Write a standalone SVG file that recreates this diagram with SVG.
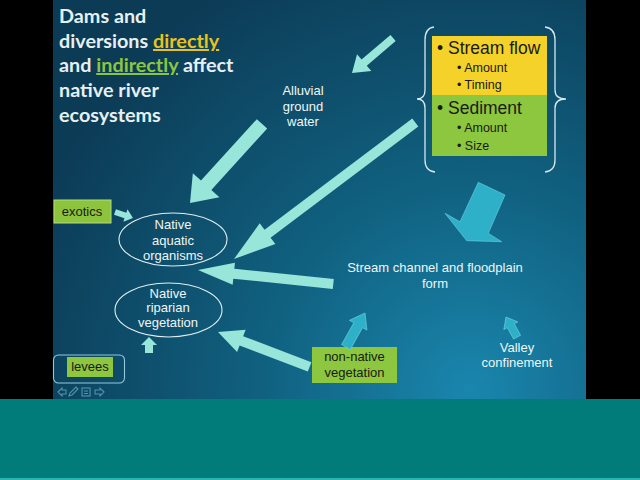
<svg xmlns="http://www.w3.org/2000/svg" width="640" height="480" viewBox="0 0 640 480">
<defs>
<radialGradient id="bg" cx="470" cy="390" r="470" gradientUnits="userSpaceOnUse">
<stop offset="0" stop-color="#1a86ad"/>
<stop offset="0.45" stop-color="#10607f"/>
<stop offset="1" stop-color="#0c3b56"/>
</radialGradient>
<style>
.t{font-family:"Liberation Sans",Arial,sans-serif;fill:#eef6f6;font-size:13px;text-anchor:middle}
.k{font-family:"Liberation Sans",Arial,sans-serif;fill:#1a1a10}
.km{font-family:"Liberation Sans",Arial,sans-serif;fill:#1a1a10;text-anchor:middle;font-size:13px}
.ti{font-family:Lato,"Open Sans",sans-serif;font-weight:bold;font-size:19.8px;fill:#e6f0f2}
.ar{fill:#98e6da}
.tl{fill:#2fb0c9;stroke:#6fd0e0;stroke-width:0.6}
.el{fill:none;stroke:#dfeff2;stroke-width:1.1}
.br{fill:none;stroke:#d8e8ee;stroke-width:1.3}
.nav{fill:none;stroke:#4f95ad;stroke-width:1.1}
</style>
</defs>
<rect x="0" y="0" width="640" height="480" fill="#000"/>
<rect x="53" y="0" width="533" height="399" fill="url(#bg)"/>
<rect x="0" y="399" width="640" height="81" fill="#027b7b"/>
<rect x="0" y="478" width="640" height="2" fill="#2bb3b3"/>

<g id="title">
<text class="ti" x="59" y="23">Dams and</text>
<text class="ti" x="59" y="48">diversions <tspan fill="#e9c21e" text-decoration="underline">directly</tspan></text>
<text class="ti" x="59" y="72">and <tspan fill="#8cc63f" text-decoration="underline">indirectly</tspan> affect</text>
<text class="ti" x="59" y="97">native river</text>
<text class="ti" x="59" y="122">ecosystems</text>
</g>

<g id="drivers">
<rect x="432" y="36" width="115" height="59" fill="#f4d22a"/>
<rect x="432" y="95" width="115" height="61" fill="#8dc63f"/>
<path class="br" d="M434,27 Q425,28 425,40 L425,90 Q425,99 417,99 Q425,99 425,108 L425,160 Q425,171 435,172"/>
<path class="br" d="M545,27 Q555,28 555,40 L555,90 Q555,99 566,99 Q555,99 555,108 L555,160 Q555,171 545,172"/>
<text class="k" x="437" y="54" font-size="17.5">• Stream flow</text>
<text class="k" x="457" y="72" font-size="12.5">•  Amount</text>
<text class="k" x="457" y="89" font-size="12.5">•  Timing</text>
<text class="k" x="437" y="114" font-size="17.5">• Sediment</text>
<text class="k" x="457" y="132" font-size="12.5">•  Amount</text>
<text class="k" x="457" y="150" font-size="12.5">•  Size</text>
</g>

<g id="alluvial">
<text class="t" x="303" y="95">Alluvial</text>
<text class="t" x="303" y="111">ground</text>
<text class="t" x="303" y="126">water</text>
</g>

<g id="aquatic">
<ellipse class="el" cx="173" cy="239.5" rx="54" ry="26.5"/>
<text class="t" x="173" y="229">Native</text>
<text class="t" x="173" y="245">aquatic</text>
<text class="t" x="173" y="260">organisms</text>
</g>

<g id="riparian">
<ellipse class="el" cx="168.5" cy="310" rx="53.5" ry="27"/>
<text class="t" x="168" y="298">Native</text>
<text class="t" x="168" y="312">riparian</text>
<text class="t" x="168" y="327">vegetation</text>
</g>

<g id="exotics">
<rect x="54" y="200" width="57" height="23" fill="#8cc43e" stroke="#b5dc78" stroke-width="1"/>
<text class="km" x="82" y="216" font-size="13.5">exotics</text>
</g>

<g id="levees">
<rect x="53.5" y="355" width="71" height="28" rx="5" fill="none" stroke="#8fc9dc" stroke-width="1.1"/>
<rect x="67" y="357" width="46" height="20" fill="#8dc63f"/>
<text class="km" x="90" y="371" font-size="13.5">levees</text>
</g>

<g id="channel">
<text class="t" x="435" y="272" font-size="13.7">Stream channel and floodplain</text>
<text class="t" x="435" y="288" font-size="13.7">form</text>
</g>

<g id="nonnative">
<rect x="312" y="347" width="85" height="36" fill="#8dc63f"/>
<text class="km" x="354.5" y="361">non-native</text>
<text class="km" x="354.5" y="377">vegetation</text>
</g>

<g id="valley">
<text class="t" x="517" y="352">Valley</text>
<text class="t" x="517" y="367">confinement</text>
</g>

<g id="connectors">
<polygon class="ar" transform="translate(352,73) rotate(139.5)" points="-54,-4 -16,-4 -16,-11 0,0 -16,11 -16,4 -54,4"/>
<polygon class="ar" transform="translate(190,203) rotate(132.3)" points="-107,-7 -24,-7 -24,-18 0,0 -24,18 -24,7 -107,7"/>
<polygon class="ar" transform="translate(234,259) rotate(143)" points="-227,-5 -42,-5 -42,-13 0,0 -42,13 -42,5 -227,5"/>
<polygon class="ar" transform="translate(198,270) rotate(185.9)" points="-136,-5 -36,-5 -36,-11 0,0 -36,11 -36,5 -136,5"/>
<polygon class="ar" transform="translate(133,218) rotate(18.4)" points="-19,-3 -8,-3 -8,-6.5 0,0 -8,6.5 -8,3 -19,3"/>
<polygon class="ar" transform="translate(149,337) rotate(-90)" points="-16,-4 -8,-4 -8,-8 0,0 -8,8 -8,4 -16,4"/>
<polygon class="ar" transform="translate(218,332) rotate(200.8)" points="-98,-5 -25,-5 -25,-12 0,0 -25,12 -25,5 -98,5"/>
<polygon class="tl" transform="translate(365,313) rotate(-60.8)" points="-39,-5 -14,-5 -14,-10 0,0 -14,10 -14,5 -39,5"/>
<polygon class="tl" transform="translate(506,317) rotate(-118.8)" points="-23,-4 -10,-4 -10,-8 0,0 -10,8 -10,4 -23,4"/>
<polygon class="tl" points="478.3,182.3 505,195 488.3,233.3 501.7,241.7 466.7,240.7 445,213.3 460,221.7"/>
</g>

<g id="nav">
<path class="nav" d="M58,392 L62,388 L62,390 L66,390 L66,394 L62,394 L62,396 Z"/>
<path class="nav" d="M69,396 L70,393 L76,387 L78,389 L72,395 Z"/>
<rect class="nav" x="82" y="388" width="8" height="8"/>
<path class="nav" d="M84,391 L88,391 M84,393.5 L88,393.5"/>
<path class="nav" d="M104,392 L100,388 L100,390 L95,390 L95,394 L100,394 L100,396 Z"/>
</g>
</svg>
